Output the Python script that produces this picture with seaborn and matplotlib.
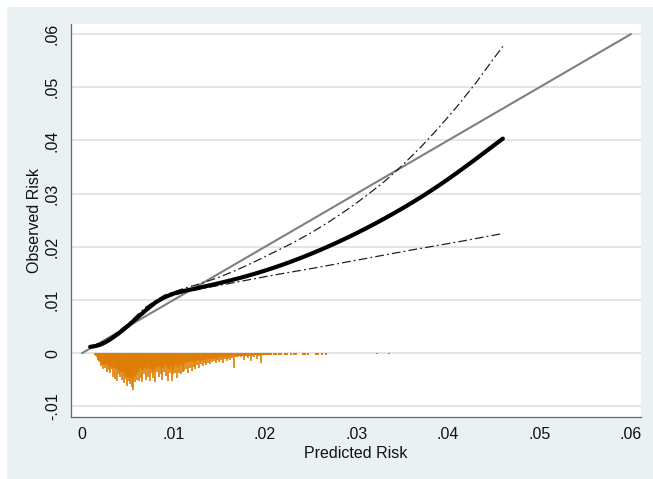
import numpy as np
import matplotlib
matplotlib.use("Agg")
import matplotlib.pyplot as plt
from matplotlib.patches import Rectangle
import seaborn as sns

# smoothed calibration curve (predicted vs observed risk)
curve_x = [0.0009, 0.0015, 0.002, 0.0025, 0.003, 0.004, 0.005, 0.006, 0.007, 0.008,
           0.009, 0.010, 0.011, 0.012, 0.013, 0.014, 0.015, 0.016, 0.017, 0.018,
           0.019, 0.020, 0.021, 0.022, 0.023, 0.024, 0.025, 0.026, 0.027, 0.028,
           0.029, 0.030, 0.031, 0.032, 0.033, 0.034, 0.035, 0.036, 0.037, 0.038,
           0.039, 0.040, 0.041, 0.042, 0.043, 0.044, 0.045, 0.046]
curve_y = [0.00120, 0.00135, 0.00160, 0.00200, 0.00250, 0.00370, 0.00510, 0.00660, 0.00810, 0.00950,
           0.01050, 0.01120, 0.01165, 0.01200, 0.01238, 0.01277, 0.01317, 0.01359, 0.01403, 0.01450,
           0.01500, 0.01553, 0.01609, 0.01668, 0.01731, 0.01797, 0.01866, 0.01938, 0.02013, 0.02091,
           0.02172, 0.02256, 0.02343, 0.02433, 0.02526, 0.02622, 0.02721, 0.02823, 0.02929, 0.03039,
           0.03153, 0.03271, 0.03393, 0.03519, 0.03645, 0.03775, 0.03905, 0.04035]

# upper / lower confidence limits
upper_x = [0.001, 0.003, 0.005, 0.007, 0.009, 0.011, 0.013, 0.015, 0.017, 0.019,
           0.021, 0.023, 0.025, 0.027, 0.029, 0.031, 0.033, 0.035, 0.037, 0.039,
           0.041, 0.043, 0.045, 0.046]
upper_y = [0.0012, 0.0027, 0.0055, 0.0087, 0.0109, 0.0121, 0.0131, 0.0143, 0.0157, 0.0173,
           0.0190, 0.0207, 0.0226, 0.0247, 0.0270, 0.0295, 0.0322, 0.0353, 0.0387, 0.0424,
           0.0464, 0.0507, 0.0554, 0.0577]
lower_x = [0.001, 0.003, 0.005, 0.007, 0.009, 0.011, 0.013, 0.017, 0.021, 0.026,
           0.031, 0.036, 0.041, 0.046]
lower_y = [0.0012, 0.0026, 0.0052, 0.0083, 0.0104, 0.0114, 0.0121, 0.0134, 0.0147, 0.0162,
           0.0178, 0.0194, 0.0209, 0.0225]

# 45 degree reference line
ref_x = [0.0, 0.06]
ref_y = [0.0, 0.06]

# spike plot of predicted risk distribution: one spike per 0.0001 bin from 0.0014
spike_start = 0.0014
spike_depth = [
    .0004, .0006, .0008, .0010, .0012, .0014, .0016,
    .0024, .0020, .0030, .0022, .0028, .0021, .0035, .0023, .0031, .0024,
    .0038, .0026, .0030, .0044, .0027, .0049, .0030, .0053, .0032, .0040,
    .0034, .0045, .0036, .0050, .0038, .0057, .0042, .0048, .0061, .0044,
    .0052, .0040, .0058, .0046, .0063, .0070, .0045, .0055, .0041, .0050,
    .0036, .0052, .0030, .0046, .0028, .0055, .0032, .0040, .0027, .0050,
    .0030, .0044, .0026, .0052, .0029, .0038, .0025, .0047, .0031, .0054,
    .0027, .0036, .0024, .0045, .0026,
    .0040, .0024, .0051, .0028, .0035, .0022, .0042, .0026, .0053, .0030,
    .0038, .0024, .0052, .0029, .0040, .0026, .0037, .0023, .0046, .0027,
    .0038, .0022, .0039, .0025, .0036,
    .0021, .0034, .0018, .0030, .0017, .0038, .0016, .0027, .0015, .0033,
    .0016, .0026, .0014, .0029, .0015, .0022, .0013, .0027, .0014, .0020,
    .0013, .0025, .0012, .0019, .0012, .0023, .0011, .0018, .0011, .0021,
    .0010, .0017, .0010, .0014, .0009, .0019, .0009, .0013, .0009, .0016,
    .0008, .0012, .0008, .0018, .0008, .0011, .0007, .0014, .0007, .0010,
    .0007, .0013, .0006, .0009, .0006, .0028, .0006, .0008, .0006, .0007,
    .0005, .0006, .0005, .0008, .0005, .0006, .0012, .0005, .0006, .0005,
    .0009, .0005, .0004, .0006, .0015, .0005, .0004, .0008, .0004, .0004,
    .0010, .0004, .0004, .0005, .0004, .0019, .0004, .0003, .0004, .0003,
    .0003, .0003, .0003, .0003, .0003, .0003, .0003,
]
# isolated spikes further out
sparse_x = [0.0210, 0.0212, 0.0215, 0.0217, 0.0222, 0.0224, 0.0228, 0.0232, 0.0234,
            0.0242, 0.0244, 0.0247, 0.0256, 0.0258, 0.0262, 0.0267, 0.0322, 0.0336]
sparse_depth = [.0003, .0003, .0003, .0003, .0003, .0003, .0003, .0003, .0003,
                .0003, .0003, .0003, .0003, .0003, .0003, .0003, .0002, .0002]

xticks = [0, 0.01, 0.02, 0.03, 0.04, 0.05, 0.06]
xtick_labels = ["0", ".01", ".02", ".03", ".04", ".05", ".06"]
yticks = [-0.01, 0, 0.01, 0.02, 0.03, 0.04, 0.05, 0.06]
ytick_labels = ["-.01", "0", ".01", ".02", ".03", ".04", ".05", ".06"]

sns.set_style("white")
plt.rcParams["font.family"] = ["Liberation Sans", "DejaVu Sans"]

fig = plt.figure(figsize=(6.53, 4.79), dpi=100, facecolor="white")
# Stata-like bluish graph region
fig.patches.append(Rectangle((7 / 653, 0), 1, 1 - 7 / 479, transform=fig.transFigure,
                             facecolor="#EAF1F3", edgecolor="none", zorder=-10))
ax = fig.add_axes([71 / 653, 1 - 417 / 479, (641 - 71) / 653, (417 - 24) / 479])
ax.set_facecolor("white")

# grid lines
for yt in yticks:
    ax.axhline(yt, color="#E2E2E2", lw=1.3, zorder=0)

# spikes
spike_x = spike_start + 0.0001 * np.arange(len(spike_depth))
ax.vlines(spike_x, 0, -np.array(spike_depth), color="#DE7B00", lw=1.2, zorder=1)
ax.vlines(sparse_x, 0, -np.array(sparse_depth), color="#DE7B00", lw=1.4, zorder=1)

dashdot = (0, (7, 2.5, 1.5, 2.5))
sns.lineplot(x=ref_x, y=ref_y, ax=ax, color="#7F7F7F", lw=1.5, zorder=2)
sns.lineplot(x=upper_x, y=upper_y, ax=ax, color="#222222", lw=0.9, linestyle=dashdot, zorder=3)
sns.lineplot(x=lower_x, y=lower_y, ax=ax, color="#222222", lw=0.9, linestyle=dashdot, zorder=3)
sns.lineplot(x=curve_x, y=curve_y, ax=ax, color="black", lw=3.0, zorder=4)

ax.set_xlim(-0.0012, 0.0611)
ax.set_ylim(-0.0120, 0.0619)
ax.set_xticks(xticks)
ax.set_xticklabels(xtick_labels)
ax.set_yticks(yticks)
ax.set_yticklabels(ytick_labels, rotation=90, va="center")
ax.tick_params(axis="both", direction="out", length=4, width=0.8, color="#555555",
               labelsize=11.5, labelcolor="#111111", pad=3)
ax.tick_params(axis="y", pad=4)

for side in ["top", "right"]:
    ax.spines[side].set_visible(False)
for side in ["left", "bottom"]:
    ax.spines[side].set_color("#666666")
    ax.spines[side].set_linewidth(0.9)

ax.set_xlabel("Predicted Risk", fontsize=11.5, color="#111111", labelpad=3)
ax.set_ylabel("Observed Risk", fontsize=11.5, color="#111111", labelpad=2)

fig.savefig("out.png", dpi=100, facecolor=fig.get_facecolor())
